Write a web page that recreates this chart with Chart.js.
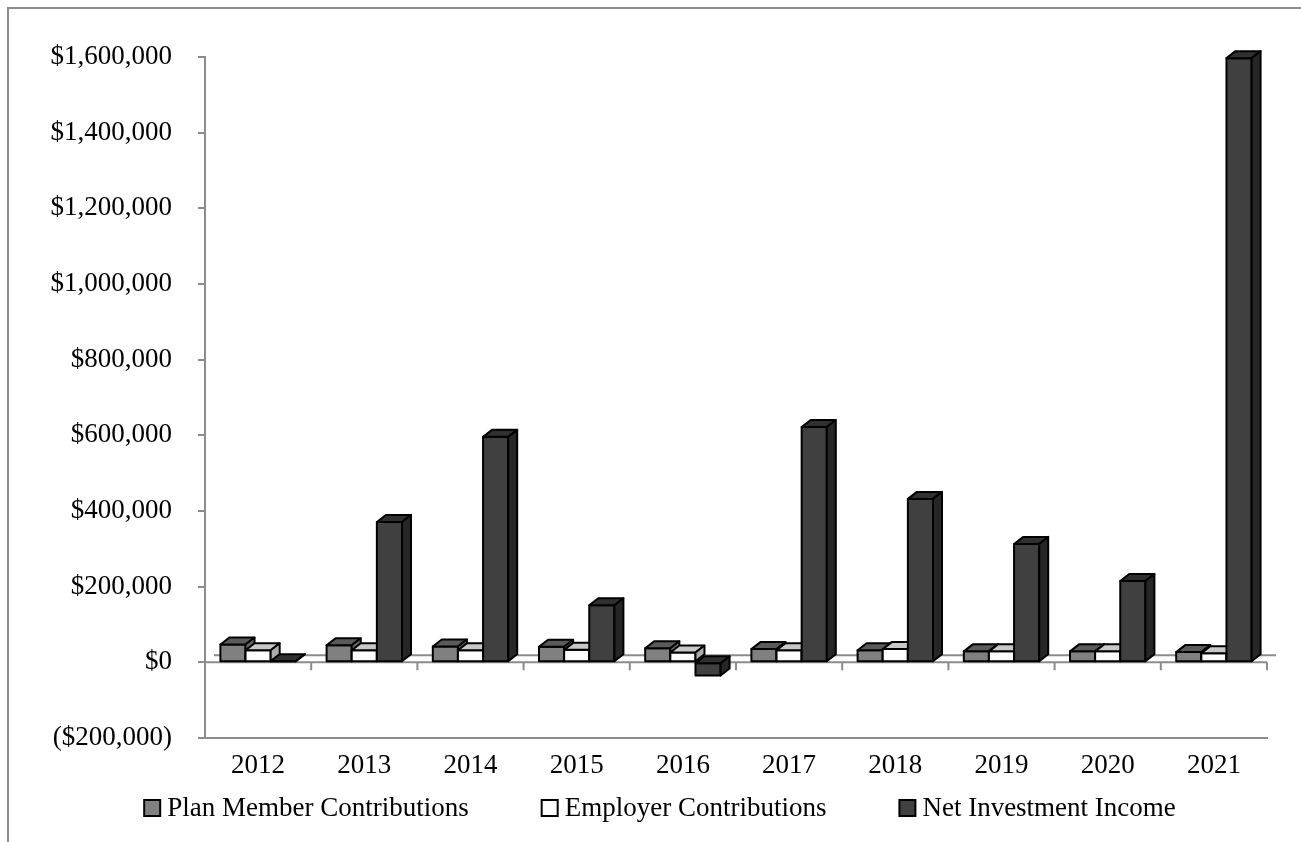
<!DOCTYPE html>
<html>
<head>
<meta charset="utf-8">
<script src="https://cdn.jsdelivr.net/npm/chart.js@4.4.1/dist/chart.umd.min.js"></script>
<style>
  body { margin: 0; background: #fff; }
</style>
</head>
<body>
<canvas id="fund_chart" width="1301" height="842"></canvas>
<script>

var years = ["2012","2013","2014","2015","2016","2017","2018","2019","2020","2021"];
var plan_member = [47000, 45000, 42000, 41000, 37000, 35000, 32000, 29000, 29000, 27000];
var employer = [32000, 32000, 32000, 33000, 26000, 32000, 35000, 29000, 29000, 24000];
var net_investment = [3000, 371000, 596000, 151000, -35000, 622000, 432000, 313000, 215000, 1597000];
var y_min = -200000;
var y_max = 1600000;
var y_step = 200000;

var font_name = "'Liberation Serif', 'Times New Roman', serif";
var axis_grey = "#8c8c8c";

// top / side shades for the fake 3d faces, per dataset
var top_colors = ["#5a5a5a", "#c8c8c8", "#303030"];
var side_colors = ["#666666", "#ababab", "#262626"];
var depth_x = 9;
var depth_y = 7;

function money(v) {
  var s = "$" + Math.abs(v).toLocaleString("en-US");
  return v < 0 ? "(" + s + ")" : s;
}

// zero floor with its back edge and the category tick marks
var floor_plugin = {
  id: "floor",
  beforeDatasetsDraw: function(chart) {
    var ctx = chart.ctx;
    var area = chart.chartArea;
    var xs = chart.scales.x;
    var y0 = chart.scales.y.getPixelForValue(0);
    var cat_w = (area.right - area.left) / years.length;
    ctx.save();
    ctx.strokeStyle = axis_grey;
    ctx.lineWidth = 2;
    ctx.beginPath();
    ctx.moveTo(area.left + depth_x, y0 - depth_y);
    ctx.lineTo(area.right + depth_x, y0 - depth_y);
    ctx.moveTo(area.left, y0);
    ctx.lineTo(area.right, y0);
    for (var i = 0; i < years.length; i++) {
      var bx = xs.getPixelForValue(i) + cat_w / 2;
      ctx.moveTo(bx, y0);
      ctx.lineTo(bx, y0 + 8);
    }
    ctx.stroke();
    ctx.restore();
  }
};

// redraw every bar as a little box, dataset by dataset inside each category
var box_plugin = {
  id: "boxes",
  afterDatasetsDraw: function(chart) {
    var ctx = chart.ctx;
    ctx.save();
    ctx.lineWidth = 2;
    ctx.strokeStyle = "#000";
    ctx.lineJoin = "round";
    for (var i = 0; i < years.length; i++) {
      chart.data.datasets.forEach(function(ds, d) {
        var bar = chart.getDatasetMeta(d).data[i];
        var l = bar.x - bar.width / 2;
        var r = bar.x + bar.width / 2;
        var t = Math.min(bar.y, bar.base);
        var b = Math.max(bar.y, bar.base);

        ctx.fillStyle = ds.backgroundColor;
        ctx.fillRect(l, t, r - l, b - t);
        ctx.strokeRect(l, t, r - l, b - t);

        ctx.beginPath();
        ctx.moveTo(l, t);
        ctx.lineTo(l + depth_x, t - depth_y);
        ctx.lineTo(r + depth_x, t - depth_y);
        ctx.lineTo(r, t);
        ctx.closePath();
        ctx.fillStyle = top_colors[d];
        ctx.fill();
        ctx.stroke();

        ctx.beginPath();
        ctx.moveTo(r, t);
        ctx.lineTo(r + depth_x, t - depth_y);
        ctx.lineTo(r + depth_x, b - depth_y);
        ctx.lineTo(r, b);
        ctx.closePath();
        ctx.fillStyle = side_colors[d];
        ctx.fill();
        ctx.stroke();
      });
    }
    ctx.restore();
  }
};

// legend row under the years, plus the outer frame
var legend_plugin = {
  id: "legendRow",
  afterDraw: function(chart) {
    var ctx = chart.ctx;
    ctx.save();
    ctx.font = "27px " + font_name;
    ctx.textBaseline = "middle";
    var box = 16, gap_text = 7, gap_item = 73;
    var widths = chart.data.datasets.map(function(ds) {
      return box + gap_text + ctx.measureText(ds.label).width;
    });
    var total = widths.reduce(function(a, w) { return a + w; }, 0) + gap_item * (widths.length - 1);
    var x = 660 - total / 2;
    var y = 808;
    chart.data.datasets.forEach(function(ds, d) {
      ctx.fillStyle = ds.backgroundColor;
      ctx.fillRect(x, y - 8, box, box);
      ctx.lineWidth = 2;
      ctx.strokeStyle = "#000";
      ctx.strokeRect(x, y - 8, box, box);
      ctx.fillStyle = "#000";
      ctx.fillText(ds.label, x + box + gap_text, y + 1);
      x += widths[d] + gap_item;
    });

    ctx.strokeStyle = axis_grey;
    ctx.lineWidth = 2;
    ctx.strokeRect(8, 8, 1400, 1000);
    ctx.restore();
  }
};

var ctx = document.getElementById("fund_chart");
var fund_chart = new Chart(ctx, {
  type: "bar",
  data: {
    labels: years,
    datasets: [
      {
        label: "Plan Member Contributions",
        data: plan_member,
        backgroundColor: "#808080",
        borderColor: "#000",
        borderWidth: 0
      },
      {
        label: "Employer Contributions",
        data: employer,
        backgroundColor: "#ffffff",
        borderColor: "#000",
        borderWidth: 0
      },
      {
        label: "Net Investment Income",
        data: net_investment,
        backgroundColor: "#404040",
        borderColor: "#000",
        borderWidth: 0
      }
    ]
  },
  options: {
    responsive: false,
    animation: false,
    layout: { padding: { top: 57, left: 0, right: 34, bottom: 0 } },
    categoryPercentage: 0.71,
    barPercentage: 1.0,
    plugins: {
      legend: { display: false },
      tooltip: { enabled: false }
    },
    scales: {
      x: {
        grid: { display: false, drawTicks: false },
        border: { display: true, color: axis_grey, width: 2 },
        ticks: {
          color: "#000",
          padding: 12,
          font: { family: font_name, size: 27 }
        },
        afterFit: function(scale) { scale.height = 104; }
      },
      y: {
        min: y_min,
        max: y_max,
        grid: { drawOnChartArea: false, drawTicks: true, tickLength: 7, color: axis_grey, lineWidth: 2 },
        border: { display: true, color: axis_grey, width: 2 },
        ticks: {
          stepSize: y_step,
          color: "#000",
          padding: 26,
          font: { family: font_name, size: 27 },
          callback: function(v) { return money(v); }
        },
        afterFit: function(scale) { scale.width = 205; }
      }
    }
  },
  plugins: [floor_plugin, box_plugin, legend_plugin]
});

</script>
</body>
</html>
